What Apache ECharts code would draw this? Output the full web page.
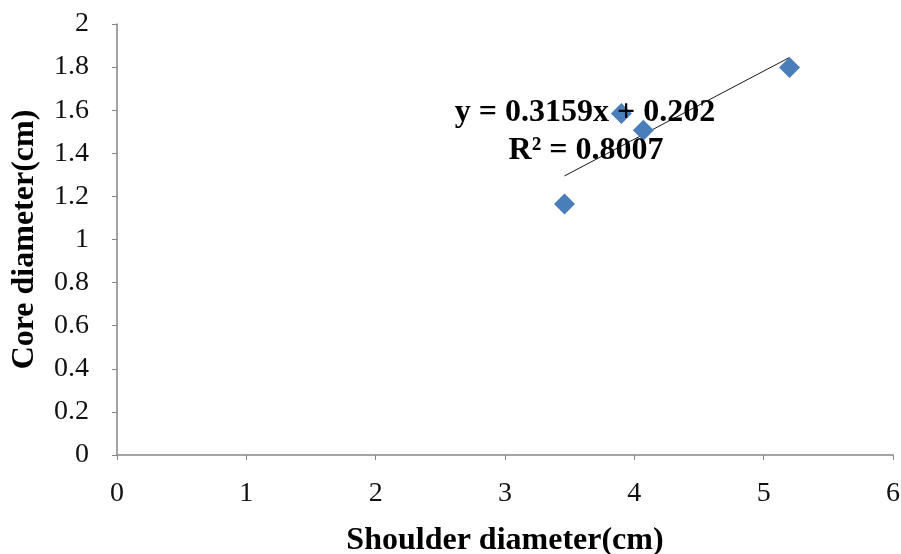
<!DOCTYPE html>
<html>
<head>
<meta charset="utf-8">
<script src="https://cdn.jsdelivr.net/npm/echarts@6/dist/echarts.min.js"></script>
<style>
html,body{margin:0;padding:0;background:#fff;}
#chart{width:901px;height:554px;}
</style>
</head>
<body>
<div id="chart"></div>
<script>
var shoulderDiameter = [3.46, 3.90, 4.07, 5.20];
var coreDiameter = [1.165, 1.585, 1.507, 1.798];
var trendSlope = 0.3159;
var trendIntercept = 0.202;
var equationText = 'y = 0.3159x + 0.202';
var r2Text = 'R² = 0.8007';
var xTitle = 'Shoulder diameter(cm)';
var yTitle = 'Core diameter(cm)';

var points = shoulderDiameter.map(function (x, i) { return [x, coreDiameter[i]]; });
var xMin = Math.min.apply(null, shoulderDiameter);
var xMax = Math.max.apply(null, shoulderDiameter);
var trend = [[xMin, trendSlope * xMin + trendIntercept], [xMax, trendSlope * xMax + trendIntercept]];

var serif = '"Liberation Serif", "DejaVu Serif", serif';
var axisColor = '#868686';

var chart = echarts.init(document.getElementById('chart'), null, {renderer: 'canvas'});
chart.setOption({
  animation: false,
  backgroundColor: '#ffffff',
  grid: {left: 117, right: 8, top: 24, bottom: 99, containLabel: false, outerBoundsMode: 'none'},
  xAxis: {
    type: 'value', min: 0, max: 6, interval: 1,
    name: xTitle, nameLocation: 'middle', nameGap: 70,
    nameTextStyle: {fontFamily: serif, fontWeight: 'bold', fontSize: 32, color: '#000'},
    axisLine: {show: true, onZero: false, lineStyle: {color: axisColor, width: 1.5}},
    axisTick: {show: true, inside: false, length: 5, lineStyle: {color: axisColor}},
    axisLabel: {fontFamily: serif, fontSize: 28, color: '#111', margin: 25},
    splitLine: {show: false}
  },
  yAxis: {
    type: 'value', min: 0, max: 2, interval: 0.2,
    name: yTitle, nameLocation: 'middle', nameGap: 76, nameRotate: 90,
    nameTextStyle: {fontFamily: serif, fontWeight: 'bold', fontSize: 32, color: '#000'},
    axisLine: {show: true, onZero: false, lineStyle: {color: axisColor, width: 1.5}},
    axisTick: {show: true, inside: false, length: 5, lineStyle: {color: axisColor}},
    axisLabel: {fontFamily: serif, fontSize: 28, color: '#111', margin: 28,
      formatter: function (v) { return String(parseFloat(v.toFixed(1))); }},
    splitLine: {show: false}
  },
  series: [
    {
      type: 'line', data: trend, symbol: 'none', z: 2,
      lineStyle: {color: '#1a1a1a', width: 1}
    },
    {
      type: 'scatter', data: points, symbol: 'diamond', symbolSize: [21, 21], z: 3,
      itemStyle: {color: '#4a7ebb', opacity: 1}
    }
  ],
  graphic: [
    {type: 'text', z: 100, x: 585, y: 113,
      style: {text: equationText, font: 'bold 32px ' + serif, fill: '#000', align: 'center', verticalAlign: 'middle'}},
    {type: 'text', z: 100, x: 586, y: 151,
      style: {text: r2Text, font: 'bold 32px ' + serif, fill: '#000', align: 'center', verticalAlign: 'middle'}}
  ]
});
</script>
</body>
</html>
